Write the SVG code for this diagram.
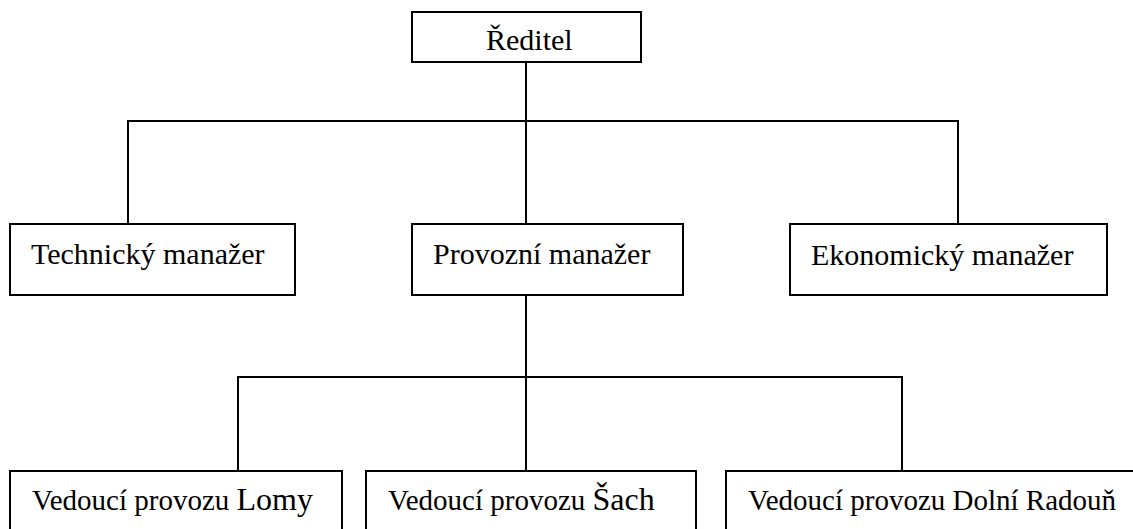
<svg xmlns="http://www.w3.org/2000/svg" width="1133" height="529" viewBox="0 0 1133 529">
<style>
.box{fill:#fff;stroke:#000;stroke-width:2}
.ln{fill:none;stroke:#000;stroke-width:2}
.t{font-family:"Liberation Serif","Times New Roman",serif;font-size:30px;fill:#000}
.b{font-family:"Liberation Serif","Times New Roman",serif;font-size:29px;fill:#000}
.big{font-size:32px}
</style>
<rect width="1133" height="529" fill="#fff"/>
<g id="connectors">
<path class="ln" d="M526 62V224"/>
<path class="ln" d="M128 224V121H958V224"/>
<path class="ln" d="M526 295V471"/>
<path class="ln" d="M238 471V377H902V471"/>
</g>
<g id="reditel">
<rect class="box" x="412" y="12" width="229" height="50"/>
<text class="t" x="486" y="50" font-size="29">Ředitel</text>
</g>
<g id="technicky">
<rect class="box" x="10" y="224" width="285" height="71"/>
<text class="t" x="31" y="264">Technický manažer</text>
</g>
<g id="provozni">
<rect class="box" x="412" y="224" width="271" height="71"/>
<text class="t" x="433" y="264">Provozní manažer</text>
</g>
<g id="ekonomicky">
<rect class="box" x="790" y="224" width="317" height="71"/>
<text class="t" x="811" y="265">Ekonomický manažer</text>
</g>
<g id="lomy">
<rect class="box" x="10" y="471" width="332" height="80"/>
<text class="b" x="32" y="510">Vedoucí provozu <tspan class="big">Lomy</tspan></text>
</g>
<g id="sach">
<rect class="box" x="366" y="471" width="330" height="80"/>
<text class="b" x="388" y="510">Vedoucí provozu <tspan class="big">Šach</tspan></text>
</g>
<g id="dolni">
<rect class="box" x="726" y="471" width="430" height="80"/>
<text class="b" x="748" y="510">Vedoucí provozu Dolní Radouň</text>
</g>
</svg>
